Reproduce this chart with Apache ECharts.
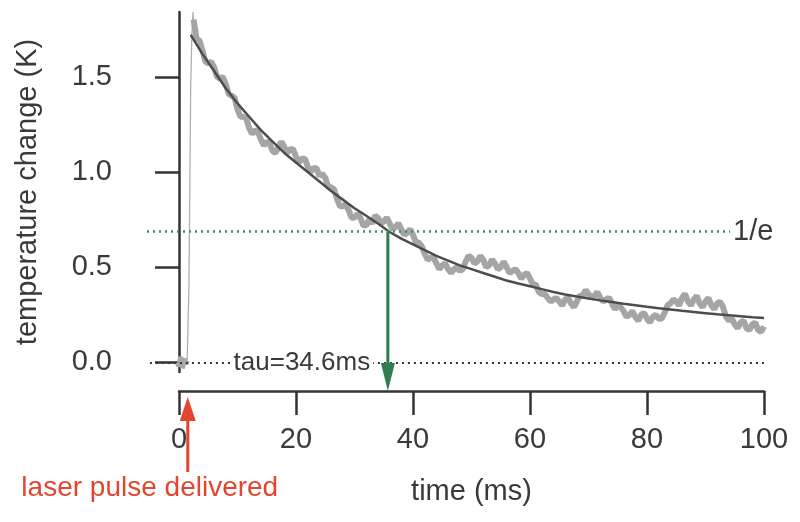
<!DOCTYPE html>
<html><head><meta charset="utf-8">
<script src="https://cdn.jsdelivr.net/npm/echarts@6/dist/echarts.min.js"></script>
<style>html,body{margin:0;padding:0;background:#fff}#c{width:800px;height:522px}</style>
</head><body><div id="c"></div>
<script>
// ---- data ----
const xTicks = [0, 20, 40, 60, 80, 100];
const yTicks = [0, 0.5, 1.0, 1.5];
const preTime = [-0.3, 0.0, 0.3, 0.6, 0.9, 1.2, 1.4];
const preTemp = [0.00, -0.02, 0.03, -0.03, 0.02, -0.01, 0.01];
const riseTime = [1.4, 1.7, 2.0, 2.2, 2.4, 2.6];
const riseTemp = [0.01, 0.40, 1.45, 1.72, 1.84, 1.74];
const decayPoints = [
 [2.5,1.80],[3,1.70],[3.5,1.69],[4,1.64],[4.5,1.58],[5,1.57],[5.5,1.58],[6,1.55],[6.5,1.50],[7,1.49],[7.5,1.50],[8,1.46],[8.5,1.41],[9,1.40],[9.5,1.39],[10,1.33],
 [10.5,1.29],[11,1.29],[11.5,1.28],[12,1.23],[12.5,1.20],[13,1.22],[13.5,1.21],[14,1.17],[14.5,1.14],[15,1.16],[15.5,1.15],[16,1.11],[16.5,1.10],[17,1.13],[17.5,1.16],[18,1.13],
 [18.5,1.10],[19,1.12],[19.5,1.12],[20,1.08],[20.5,1.05],[21,1.07],[21.5,1.07],[22,1.03],[22.5,1.00],[23,1.02],[23.5,1.02],[24,0.98],[24.5,0.99],[25,0.97],[25.5,0.92],[26,0.92],
 [26.5,0.91],[27,0.86],[27.5,0.82],[28,0.82],[28.5,0.83],[29,0.80],[29.5,0.76],[30,0.76],[30.5,0.78],[31,0.76],[31.5,0.72],[32,0.72],[32.5,0.75],[33,0.73],[33.5,0.77],[34,0.76],
 [34.5,0.73],[35,0.74],[35.5,0.76],[36,0.73],[36.5,0.70],[37,0.71],[37.5,0.73],[38,0.70],[38.5,0.67],[39,0.68],[39.5,0.70],[40,0.67],[40.5,0.63],[41,0.63],[41.5,0.61],[42,0.57],
 [42.5,0.54],[43,0.55],[43.5,0.55],[44,0.52],[44.5,0.49],[45,0.51],[45.5,0.52],[46,0.49],[46.5,0.47],[47,0.49],[47.5,0.50],[48,0.48],[48.5,0.49],[49,0.53],[49.5,0.56],[50,0.55],
 [50.5,0.52],[51,0.53],[51.5,0.56],[52,0.54],[52.5,0.50],[53,0.51],[53.5,0.54],[54,0.52],[54.5,0.49],[55,0.50],[55.5,0.53],[56,0.50],[56.5,0.47],[57,0.48],[57.5,0.49],[58,0.47],
 [58.5,0.44],[59,0.46],[59.5,0.47],[60,0.44],[60.5,0.41],[61,0.41],[61.5,0.37],[62,0.36],[62.5,0.36],[63,0.34],[63.5,0.32],[64,0.33],[64.5,0.34],[65,0.32],[65.5,0.30],[66,0.33],
 [66.5,0.34],[67,0.31],[67.5,0.29],[68,0.32],[68.5,0.35],[69,0.35],[69.5,0.38],[70,0.36],[70.5,0.34],[71,0.35],[71.5,0.37],[72,0.34],[72.5,0.32],[73,0.33],[73.5,0.34],[74,0.31],
 [74.5,0.28],[75,0.30],[75.5,0.29],[76,0.27],[76.5,0.24],[77,0.25],[77.5,0.27],[78,0.24],[78.5,0.22],[79,0.25],[79.5,0.26],[80,0.23],[80.5,0.21],[81,0.24],[81.5,0.25],[82,0.23],
 [82.5,0.23],[83,0.26],[83.5,0.30],[84,0.31],[84.5,0.33],[85,0.32],[85.5,0.30],[86,0.34],[86.5,0.36],[87,0.32],[87.5,0.30],[88,0.33],[88.5,0.35],[89,0.31],[89.5,0.29],[90,0.32],
 [90.5,0.34],[91,0.30],[91.5,0.28],[92,0.31],[92.5,0.32],[93,0.29],[93.5,0.24],[94,0.22],[94.5,0.23],[95,0.20],[95.5,0.18],[96,0.21],[96.5,0.22],[97,0.18],[97.5,0.17],[98,0.20],
 [98.5,0.21],[99,0.17],[99.5,0.16],[100,0.19]
];
const fitTime = [2,4,6,8,10,12,14,16,18,20,22,24,26,28,30,32,34,36,38,40,42,44,46,48,50,52,54,56,58,60,62,64,66,68,70,72,74,76,78,80,82,84,86,88,90,92,94,96,98,100];
const fitTemp = [1.72,1.62,1.53,1.44,1.36,1.29,1.22,1.16,1.10,1.05,1.00,0.95,0.90,0.855,0.81,0.77,0.73,0.685,0.65,0.62,0.59,0.56,0.535,0.51,0.49,0.47,0.45,0.43,0.415,0.40,0.385,0.37,0.357,0.346,0.336,0.326,0.317,0.308,0.30,0.292,0.285,0.278,0.271,0.265,0.259,0.253,0.248,0.243,0.238,0.234];
const oneOverE = 0.687;
const tauMarkTime = 35.7;
const tauText = 'tau=34.6ms';
const tauTextTime = 21.0;
const oneOverEEnd = 94.2;
const pulseTime = 1.5;
const xMin = -5.47;

const FONT = '"Liberation Sans", Arial, Helvetica, sans-serif';
const TXT = '#3a3a3a';
const RED = '#e2462f';
const GREEN = '#2f7d4d';
const zip = (a, b) => a.map((t, i) => [t, b[i]]);

const chart = echarts.init(document.getElementById('c'));
chart.setOption({
  animation: false,
  grid: [
    { left: 147, right: 36, top: 12, bottom: 150 },
    { left: 179, right: 36, top: 390, height: 1 }
  ],
  xAxis: [
    { gridIndex: 0, type: 'value', min: xMin, max: 100, show: false },
    { gridIndex: 1, type: 'value', min: 0, max: 100, interval: 20,
      axisLine: { show: true, lineStyle: { color: '#333', width: 2.5 } },
      axisTick: { show: true, length: 24, lineStyle: { color: '#333', width: 2.5 } },
      axisLabel: { margin: 34, fontSize: 29, color: TXT, fontFamily: FONT },
      splitLine: { show: false },
      name: 'time (ms)', nameLocation: 'middle', nameGap: 86,
      nameTextStyle: { fontSize: 29, color: TXT, fontFamily: FONT } }
  ],
  yAxis: [
    { gridIndex: 0, type: 'value', min: -0.05, max: 1.84,
      axisLine: { show: true, lineStyle: { color: '#333', width: 2.5 } },
      axisTick: { show: true, length: 24, customValues: yTicks, lineStyle: { color: '#333', width: 2.5 } },
      axisLabel: { margin: 35, customValues: yTicks, formatter: v => v.toFixed(1), fontSize: 29, color: TXT, fontFamily: FONT },
      splitLine: { show: false },
      name: 'temperature change (K)', nameLocation: 'middle', nameGap: 105, nameRotate: 90,
      nameTextStyle: { fontSize: 29, color: TXT, fontFamily: FONT } },
    { gridIndex: 1, type: 'value', min: 0, max: 1, show: false }
  ],
  series: [
    { type: 'line', name: 'pre', xAxisIndex: 0, yAxisIndex: 0, data: zip(preTime, preTemp),
      symbol: 'none', lineStyle: { color: '#a8a8a8', width: 5 }, z: 2 },
    { type: 'line', name: 'rise', xAxisIndex: 0, yAxisIndex: 0, data: zip(riseTime, riseTemp),
      symbol: 'none', lineStyle: { color: '#b0b0b0', width: 1.3 }, z: 2 },
    { type: 'line', name: 'raw', xAxisIndex: 0, yAxisIndex: 0, data: decayPoints,
      symbol: 'none', lineStyle: { color: '#a5a5a5', width: 6 }, z: 2 },
    { type: 'line', name: 'fit', xAxisIndex: 0, yAxisIndex: 0, data: zip(fitTime, fitTemp),
      symbol: 'none', lineStyle: { color: '#4d4d4d', width: 2.5 }, z: 3,
      markLine: {
        silent: true, symbol: ['none', 'none'], animation: false,
        data: [
          [ { coord: [xMin, oneOverE], lineStyle: { color: '#3f9060', type: [2, 4], width: 2.5 },
              label: { show: true, position: 'end', distance: 3, formatter: '1/e', fontSize: 29, color: TXT, fontFamily: FONT } },
            { coord: [oneOverEEnd, oneOverE] } ],
          [ { coord: [xMin + 0.5, 0], lineStyle: { color: '#333', type: [2, 4], width: 2 }, label: { show: false } },
            { coord: [100, 0] } ]
        ]
      },
      markPoint: {
        silent: true, symbol: 'rect', symbolSize: 0, animation: false,
        data: [ { coord: [tauTextTime, 0] } ],
        label: { show: true, position: 'inside', formatter: tauText, fontSize: 26, color: TXT, fontFamily: FONT,
                 backgroundColor: '#fff', padding: [0, 3] }
      }
    }
  ]
});

// arrows placed through the axes' scales
const gx = chart.convertToPixel({ xAxisIndex: 0 }, tauMarkTime);
const gy = chart.convertToPixel({ yAxisIndex: 0 }, oneOverE);
const axisY = chart.convertToPixel({ gridIndex: 1 }, [0, 0])[1];
const rx = chart.convertToPixel({ xAxisIndex: 1 }, pulseTime);
chart.setOption({
  graphic: [
    { type: 'line', shape: { x1: gx, y1: gy, x2: gx, y2: axisY - 24 }, style: { stroke: GREEN, lineWidth: 3 }, z: 10 },
    { type: 'polygon', shape: { points: [[gx - 7, axisY - 28], [gx + 7, axisY - 28], [gx, axisY]] }, style: { fill: GREEN }, z: 10 },
    { type: 'line', shape: { x1: rx, y1: axisY + 26, x2: rx, y2: axisY + 81 }, style: { stroke: RED, lineWidth: 3 }, z: 10 },
    { type: 'polygon', shape: { points: [[rx - 8, axisY + 30], [rx + 8, axisY + 30], [rx, axisY + 6]] }, style: { fill: RED }, z: 10 },
    { type: 'text', x: rx - 38, y: axisY + 97, style: { text: 'laser pulse delivered', fill: RED, font: '28px ' + FONT, textAlign: 'center', textVerticalAlign: 'middle' }, z: 10 }
  ]
});
</script>
</body></html>
